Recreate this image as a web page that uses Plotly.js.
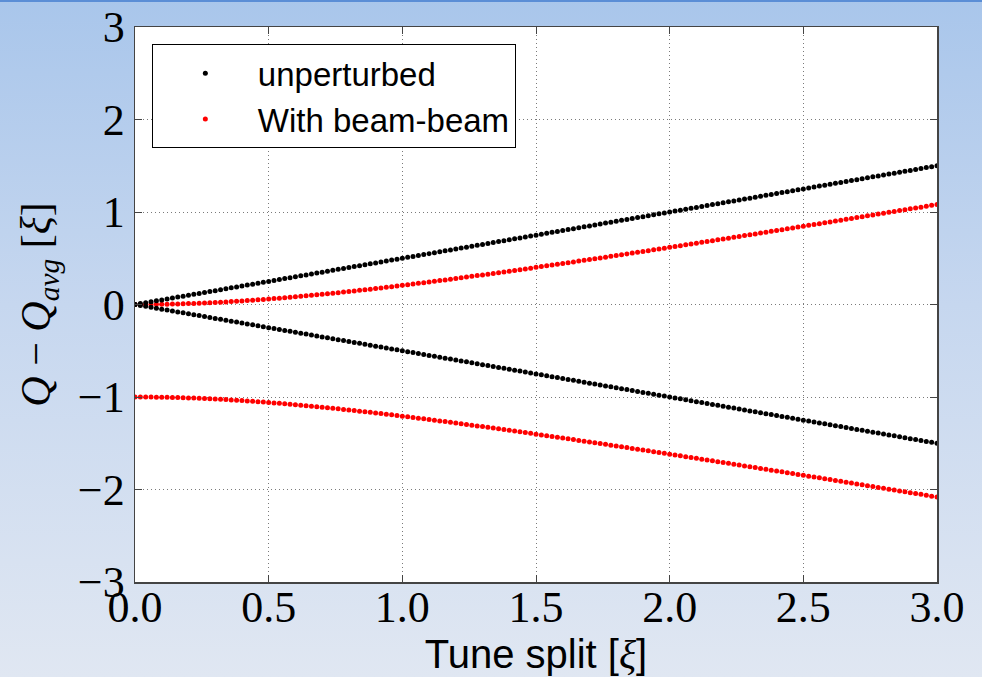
<!DOCTYPE html>
<html><head><meta charset="utf-8">
<script src="https://cdn.plot.ly/plotly-3.0.1.min.js"></script>
<style>
html,body{margin:0;padding:0;width:982px;height:677px;overflow:hidden;}
body{background:linear-gradient(to bottom,#a9c6eb 0%,#c6d7ef 45%,#e0e7f2 100%);}
#topline{position:absolute;left:0;top:0;width:982px;height:2px;background:#5b8ed6;}
#chart{position:absolute;left:0;top:0;width:982px;height:677px;}
</style></head><body><div id="topline"></div><div id="chart"></div>
<script>
// Tune split [xi]
const tuneSplit = [0,0.02,0.04,0.06,0.08,0.1,0.12,0.14,0.16,0.18,0.2,0.22,0.24,0.26,0.28,0.3,0.32,0.34,0.36,0.38,0.4,0.42,0.44,0.46,0.48,0.5,0.52,0.54,0.56,0.58,0.6,0.62,0.64,0.66,0.68,0.7,0.72,0.74,0.76,0.78,0.8,0.82,0.84,0.86,0.88,0.9,0.92,0.94,0.96,0.98,1,
1.02,1.04,1.06,1.08,1.1,1.12,1.14,1.16,1.18,1.2,
1.22,1.24,1.26,1.28,1.3,1.32,1.34,1.36,1.38,1.4,
1.42,1.44,1.46,1.48,1.5,1.52,1.54,1.56,1.58,1.6,
1.62,1.64,1.66,1.68,1.7,1.72,1.74,1.76,1.78,1.8,
1.82,1.84,1.86,1.88,1.9,1.92,1.94,1.96,1.98,2,
2.02,2.04,2.06,2.08,2.1,2.12,2.14,2.16,2.18,2.2,
2.22,2.24,2.26,2.28,2.3,2.32,2.34,2.36,2.38,2.4,
2.42,2.44,2.46,2.48,2.5,2.52,2.54,2.56,2.58,2.6,
2.62,2.64,2.66,2.68,2.7,2.72,2.74,2.76,2.78,2.8,
2.82,2.84,2.86,2.88,2.9,2.92,2.94,2.96,2.98,3];

// unperturbed, upper branch
const unpertUpper = [0,0.01,0.02,0.03,0.04,0.05,0.06,0.07,0.08,0.09,0.1,0.11,0.12,0.13,0.14,0.15,0.16,0.17,0.18,0.19,0.2,0.21,0.22,0.23,0.24,0.25,0.26,0.27,0.28,0.29,0.3,0.31,0.32,0.33,0.34,0.35,0.36,0.37,0.38,0.39,0.4,0.41,0.42,0.43,0.44,0.45,0.46,0.47,0.48,0.49,0.5,
0.51,0.52,0.53,0.54,0.55,0.56,0.57,0.58,0.59,0.6,
0.61,0.62,0.63,0.64,0.65,0.66,0.67,0.68,0.69,0.7,
0.71,0.72,0.73,0.74,0.75,0.76,0.77,0.78,0.79,0.8,
0.81,0.82,0.83,0.84,0.85,0.86,0.87,0.88,0.89,0.9,
0.91,0.92,0.93,0.94,0.95,0.96,0.97,0.98,0.99,1,
1.01,1.02,1.03,1.04,1.05,1.06,1.07,1.08,1.09,1.1,
1.11,1.12,1.13,1.14,1.15,1.16,1.17,1.18,1.19,1.2,
1.21,1.22,1.23,1.24,1.25,1.26,1.27,1.28,1.29,1.3,
1.31,1.32,1.33,1.34,1.35,1.36,1.37,1.38,1.39,1.4,
1.41,1.42,1.43,1.44,1.45,1.46,1.47,1.48,1.49,1.5];

// unperturbed, lower branch
const unpertLower = [0,-0.01,-0.02,-0.03,-0.04,-0.05,-0.06,-0.07,-0.08,-0.09,-0.1,-0.11,-0.12,-0.13,-0.14,-0.15,-0.16,-0.17,-0.18,-0.19,-0.2,-0.21,-0.22,-0.23,-0.24,-0.25,-0.26,-0.27,-0.28,-0.29,-0.3,-0.31,-0.32,-0.33,-0.34,-0.35,-0.36,-0.37,-0.38,-0.39,-0.4,-0.41,-0.42,-0.43,-0.44,-0.45,-0.46,-0.47,-0.48,-0.49,-0.5,
-0.51,-0.52,-0.53,-0.54,-0.55,-0.56,-0.57,-0.58,-0.59,-0.6,
-0.61,-0.62,-0.63,-0.64,-0.65,-0.66,-0.67,-0.68,-0.69,-0.7,
-0.71,-0.72,-0.73,-0.74,-0.75,-0.76,-0.77,-0.78,-0.79,-0.8,
-0.81,-0.82,-0.83,-0.84,-0.85,-0.86,-0.87,-0.88,-0.89,-0.9,
-0.91,-0.92,-0.93,-0.94,-0.95,-0.96,-0.97,-0.98,-0.99,-1,
-1.01,-1.02,-1.03,-1.04,-1.05,-1.06,-1.07,-1.08,-1.09,-1.1,
-1.11,-1.12,-1.13,-1.14,-1.15,-1.16,-1.17,-1.18,-1.19,-1.2,
-1.21,-1.22,-1.23,-1.24,-1.25,-1.26,-1.27,-1.28,-1.29,-1.3,
-1.31,-1.32,-1.33,-1.34,-1.35,-1.36,-1.37,-1.38,-1.39,-1.4,
-1.41,-1.42,-1.43,-1.44,-1.45,-1.46,-1.47,-1.48,-1.49,-1.5];

// with beam-beam, upper branch
const bbUpper = [0,0.0001,0.0004,0.0009,0.0016,0.0025,0.0036,0.0049,0.0064,0.0080,0.0099,0.0120,0.0142,0.0166,0.0192,0.0220,0.0250,0.0281,0.0314,0.0349,0.0385,0.0423,0.0463,0.0504,0.0546,0.0590,0.0636,0.0682,0.0731,0.0780,0.0831,0.0883,0.0936,0.0991,0.1047,0.1103,0.1161,0.1220,0.1280,0.1341,0.1403,0.1466,0.1530,0.1595,0.1660,0.1727,0.1794,0.1862,0.1931,0.2001,0.2071,
0.2142,0.2214,0.2286,0.2359,0.2433,0.2507,0.2582,0.2658,0.2734,0.2810,
0.2887,0.2965,0.3043,0.3122,0.3201,0.3280,0.3360,0.3440,0.3521,0.3602,
0.3684,0.3766,0.3848,0.3931,0.4014,0.4097,0.4181,0.4265,0.4349,0.4434,
0.4519,0.4604,0.4690,0.4775,0.4862,0.4948,0.5034,0.5121,0.5208,0.5296,
0.5383,0.5471,0.5559,0.5647,0.5735,0.5824,0.5913,0.6002,0.6091,0.6180,
0.6270,0.6360,0.6449,0.6540,0.6630,0.6720,0.6811,0.6901,0.6992,0.7083,
0.7174,0.7265,0.7357,0.7448,0.7540,0.7632,0.7724,0.7816,0.7908,0.8000,
0.8092,0.8185,0.8277,0.8370,0.8463,0.8556,0.8649,0.8742,0.8835,0.8928,
0.9022,0.9115,0.9209,0.9302,0.9396,0.9490,0.9584,0.9678,0.9772,0.9866,
0.9960,1.0055,1.0149,1.0243,1.0338,1.0432,1.0527,1.0622,1.0717,1.0811];

// with beam-beam, lower branch
const bbLower = [-1,-1.0001,-1.0004,-1.0009,-1.0016,-1.0025,-1.0036,-1.0049,-1.0064,-1.0080,-1.0099,-1.0120,-1.0142,-1.0166,-1.0192,-1.0220,-1.0250,-1.0281,-1.0314,-1.0349,-1.0385,-1.0423,-1.0463,-1.0504,-1.0546,-1.0590,-1.0636,-1.0682,-1.0731,-1.0780,-1.0831,-1.0883,-1.0936,-1.0991,-1.1047,-1.1103,-1.1161,-1.1220,-1.1280,-1.1341,-1.1403,-1.1466,-1.1530,-1.1595,-1.1660,-1.1727,-1.1794,-1.1862,-1.1931,-1.2001,-1.2071,
-1.2142,-1.2214,-1.2286,-1.2359,-1.2433,-1.2507,-1.2582,-1.2658,-1.2734,-1.2810,
-1.2887,-1.2965,-1.3043,-1.3122,-1.3201,-1.3280,-1.3360,-1.3440,-1.3521,-1.3602,
-1.3684,-1.3766,-1.3848,-1.3931,-1.4014,-1.4097,-1.4181,-1.4265,-1.4349,-1.4434,
-1.4519,-1.4604,-1.4690,-1.4775,-1.4862,-1.4948,-1.5034,-1.5121,-1.5208,-1.5296,
-1.5383,-1.5471,-1.5559,-1.5647,-1.5735,-1.5824,-1.5913,-1.6002,-1.6091,-1.6180,
-1.6270,-1.6360,-1.6449,-1.6540,-1.6630,-1.6720,-1.6811,-1.6901,-1.6992,-1.7083,
-1.7174,-1.7265,-1.7357,-1.7448,-1.7540,-1.7632,-1.7724,-1.7816,-1.7908,-1.8000,
-1.8092,-1.8185,-1.8277,-1.8370,-1.8463,-1.8556,-1.8649,-1.8742,-1.8835,-1.8928,
-1.9022,-1.9115,-1.9209,-1.9302,-1.9396,-1.9490,-1.9584,-1.9678,-1.9772,-1.9866,
-1.9960,-2.0055,-2.0149,-2.0243,-2.0338,-2.0432,-2.0527,-2.0622,-2.0717,-2.0811];

const seriesNames = ['unperturbed', 'With beam-beam'];
const xTickVals = [0, 0.5, 1, 1.5, 2, 2.5, 3];
const xTickText = ['0.0', '0.5', '1.0', '1.5', '2.0', '2.5', '3.0'];
const yTickVals = [-3, -2, -1, 0, 1, 2, 3];

const BLACK = '#000000', RED = '#ff0000';
const mk = (c) => ({color: c, size: 5, line: {width: 0}});

const traces = [
  {x: tuneSplit, y: bbUpper, type: 'scatter', mode: 'markers', marker: mk(RED),
   name: seriesNames[1], legendgroup: 'bb', showlegend: true, legendrank: 2},
  {x: tuneSplit, y: bbLower, type: 'scatter', mode: 'markers', marker: mk(RED),
   name: seriesNames[1], legendgroup: 'bb', showlegend: false},
  {x: tuneSplit, y: unpertUpper, type: 'scatter', mode: 'markers', marker: mk(BLACK),
   name: seriesNames[0], legendgroup: 'un', showlegend: true, legendrank: 1},
  {x: tuneSplit, y: unpertLower, type: 'scatter', mode: 'markers', marker: mk(BLACK),
   name: seriesNames[0], legendgroup: 'un', showlegend: false}
];

const axisCommon = {
  showgrid: true, gridcolor: '#7a7a7a', griddash: '1px,3px', gridwidth: 1,
  zeroline: false, showline: true, linecolor: '#444444', linewidth: 1.5,
  mirror: 'ticks', ticks: 'inside', ticklen: 7, tickwidth: 1, tickcolor: '#444444',
  tickfont: {family: 'Liberation Serif, serif', size: 44, color: '#000000'}
};

const layout = {
  width: 982, height: 677,
  paper_bgcolor: 'rgba(0,0,0,0)', plot_bgcolor: '#ffffff',
  margin: {l: 135, r: 45, t: 27, b: 95, autoexpand: false},
  showlegend: true,
  legend: {
    x: 0.021, y: 0.969, xanchor: 'left', yanchor: 'top',
    bgcolor: '#ffffff', bordercolor: '#000000', borderwidth: 1,
    font: {family: 'Liberation Sans, Arial, sans-serif', size: 33, color: '#000000'},
    itemwidth: 95, traceorder: 'normal', itemsizing: 'trace',
    entrywidth: 370, entrywidthmode: 'pixels'
  },
  xaxis: Object.assign({}, axisCommon, {
    range: [0, 3], tickvals: xTickVals, ticktext: xTickText, ticklabelstandoff: -14,
    title: {text: 'Tune split [<span style="font-family:Liberation Serif;font-style:italic">ξ</span>]',
            font: {family: 'Liberation Sans, Arial, sans-serif', size: 40, color: '#000000'}, standoff: 2}
  }),
  yaxis: Object.assign({}, axisCommon, {
    range: [-3, 3], tickvals: yTickVals,
    title: {text: '<i>Q</i> − <i>Q</i><sub><i>avg</i></sub> [<i>ξ</i>]',
            font: {family: 'Liberation Serif, serif', size: 42, color: '#000000'}, standoff: 14}
  })
};

Plotly.newPlot('chart', traces, layout, {displayModeBar: false, staticPlot: true});
</script></body></html>
